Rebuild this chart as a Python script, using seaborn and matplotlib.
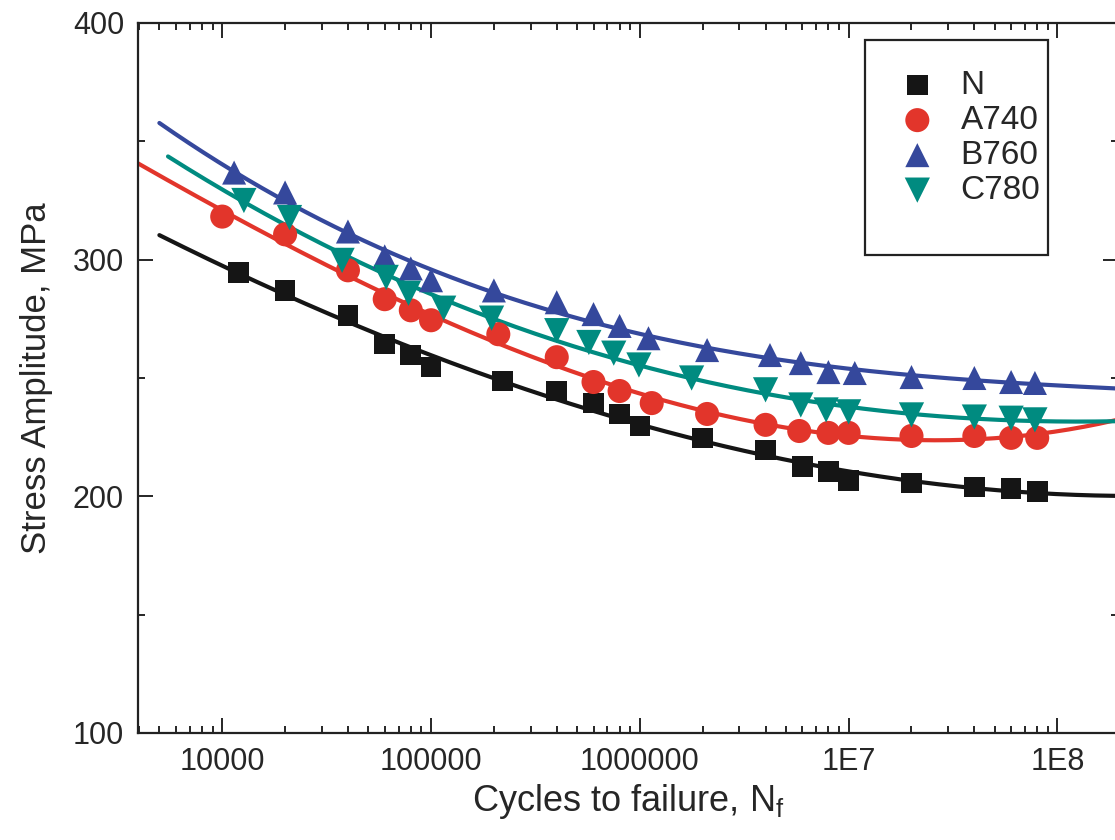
import numpy as np
import pandas as pd
import matplotlib
matplotlib.use("Agg")
import matplotlib.pyplot as plt
import seaborn as sns
from matplotlib.ticker import FixedLocator, FixedFormatter, LogLocator, MultipleLocator, NullFormatter
from matplotlib.patches import Rectangle

# cycles to failure and stress amplitude (MPa)
n_cycles = [1.2e4, 2e4, 4e4, 6e4, 8e4, 1e5, 2.2e5, 4e5, 6e5, 8e5, 1e6, 2e6, 4e6, 6e6, 8e6, 1e7, 2e7, 4e7, 6e7, 8e7]
n_stress = [294.6, 287, 276.5, 264.3, 259.7, 254.6, 248.7, 244.5, 239.4, 234.8, 229.7, 224.7, 219.6, 212.5, 210.4, 206.6, 205.7, 204, 203.2, 202]

a740_cycles = [1e4, 2e4, 4e4, 6e4, 8e4, 1e5, 2.1e5, 4e5, 6e5, 8e5, 1.14e6, 2.1e6, 4e6, 5.8e6, 8e6, 1e7, 2e7, 4e7, 6e7, 8e7]
a740_stress = [318.2, 310.7, 295.5, 283.3, 278.6, 274.4, 268.5, 258.8, 248.3, 244.5, 239.4, 234.8, 230.2, 227.6, 226.8, 226.8, 225.5, 225.5, 224.7, 224.7]

b760_cycles = [1.14e4, 2e4, 4e4, 6e4, 8e4, 1e5, 2e5, 4e5, 6e5, 8e5, 1.1e6, 2.1e6, 4.2e6, 5.9e6, 8e6, 1.07e7, 2e7, 4e7, 6e7, 7.8e7]
b760_stress = [336.8, 328.4, 311.9, 301.4, 296.3, 291.3, 287, 282, 277, 272, 266.8, 261.8, 259.7, 256.3, 252.5, 252.1, 250.4, 250, 248.3, 247.9]

c780_cycles = [1.27e4, 2.1e4, 3.75e4, 6.1e4, 7.8e4, 1.15e5, 1.95e5, 4e5, 5.7e5, 7.5e5, 9.9e5, 1.77e6, 4e6, 5.9e6, 7.8e6, 1e7, 2e7, 4e7, 6e7, 7.8e7]
c780_stress = [325, 317.8, 299.7, 292.5, 285.8, 279.5, 275.3, 270, 265, 260.5, 255.5, 250, 245, 238.6, 236.5, 235.7, 234.4, 233.5, 233, 232.3]

series_names = ["N", "A740", "B760", "C780"]
fit_start = [5000, 3900, 5000, 5500]
fit_end = 2.2e8

x_major = [1e4, 1e5, 1e6, 1e7, 1e8]
x_labels = ["10000", "100000", "1000000", "1E7", "1E8"]

colors = ["#151515", "#e2352b", "#35489c", "#008b80"]
markers = ["s", "o", "^", "v"]
sizes = [220, 300, 300, 330]

sns.set_style("ticks")
plt.rcParams["font.family"] = ["Liberation Sans", "DejaVu Sans"]
plt.rcParams["mathtext.fontset"] = "custom"
plt.rcParams["mathtext.rm"] = "Liberation Sans"
plt.rcParams["mathtext.it"] = "Liberation Sans"

data = {
    "N": (n_cycles, n_stress),
    "A740": (a740_cycles, a740_stress),
    "B760": (b760_cycles, b760_stress),
    "C780": (c780_cycles, c780_stress),
}

fig = plt.figure(figsize=(11.15, 8.4), dpi=100)
ax = fig.add_axes([138 / 1115, 107 / 840, 980 / 1115, 710 / 840])

# cubic fit in log(N) for each series
for name, start, col in zip(series_names, fit_start, colors):
    x, y = data[name]
    coef = np.polyfit(np.log10(x), y, 3)
    grid = np.logspace(np.log10(start), np.log10(fit_end), 200)
    fit = pd.DataFrame({"N": grid, "S": np.polyval(coef, np.log10(grid))})
    sns.lineplot(data=fit, x="N", y="S", color=col, linewidth=3, ax=ax, legend=False)

for name, col, mk, sz in zip(series_names, colors, markers, sizes):
    x, y = data[name]
    df = pd.DataFrame({"N": x, "S": y})
    sns.scatterplot(data=df, x="N", y="S", color=col, marker=mk, s=sz,
                    edgecolor="none", label=name, ax=ax, zorder=3)

ax.set_xscale("log")
ax.set_xlim(3950, 1.95e8)
ax.set_ylim(100, 400)
ax.xaxis.set_major_locator(FixedLocator(x_major))
ax.xaxis.set_major_formatter(FixedFormatter(x_labels))
ax.xaxis.set_minor_locator(LogLocator(base=10, subs=np.arange(2, 10)))
ax.xaxis.set_minor_formatter(NullFormatter())
ax.yaxis.set_major_locator(MultipleLocator(100))
ax.yaxis.set_minor_locator(MultipleLocator(50))

ax.tick_params(which="both", direction="in", top=True, right=True, width=1.4, labelsize=22)
ax.tick_params(which="major", length=10.5)
ax.tick_params(which="minor", length=5)
ax.tick_params(axis="x", pad=10)
ax.tick_params(axis="y", pad=10)
for sp in ax.spines.values():
    sp.set_linewidth(1.6)
    sp.set_color("#222222")

ax.set_xlabel(r"Cycles to failure, $\mathregular{N_f}$", fontsize=26, labelpad=4)
ax.set_ylabel("Stress Amplitude, MPa", fontsize=25, labelpad=14)

leg = ax.legend(loc="upper left", bbox_to_anchor=(0.717, 0.995), frameon=False,
                fontsize=24, handletextpad=0.3, labelspacing=0.12, borderpad=0.8)
ax.add_patch(Rectangle((0.742, 0.673), 0.187, 0.303, transform=ax.transAxes,
                       fill=False, edgecolor="#222222", linewidth=1.6, zorder=5))

fig.savefig("out.png", dpi=100)
